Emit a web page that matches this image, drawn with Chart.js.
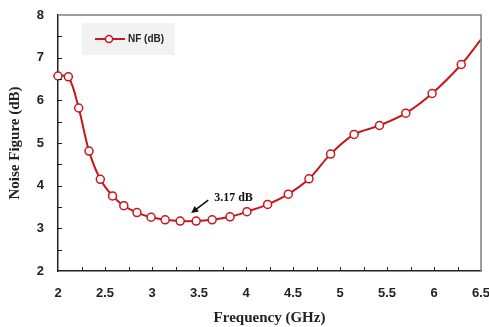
<!DOCTYPE html>
<html>
<head>
<meta charset="utf-8">
<script src="https://cdn.jsdelivr.net/npm/chart.js@4/dist/chart.umd.min.js"></script>
<style>
  html, body { margin: 0; padding: 0; background: #fff; }
  #wrap { width: 489px; height: 327px; }
</style>
</head>
<body>
<div id="wrap"><canvas id="chart"></canvas></div>
<script>
// measured noise figure vs frequency
const freqGHz = [2.0, 2.11, 2.22, 2.33, 2.45, 2.58, 2.70, 2.84, 2.99, 3.14, 3.30, 3.47, 3.64,
                 3.83, 4.01, 4.23, 4.45, 4.67, 4.90, 5.15, 5.42, 5.70, 5.98, 6.29, 6.5];
const nfDb = [6.57, 6.55, 5.82, 4.81, 4.15, 3.76, 3.53, 3.37, 3.26, 3.20, 3.17, 3.17, 3.20,
              3.27, 3.39, 3.56, 3.80, 4.16, 4.74, 5.20, 5.41, 5.70, 6.16, 6.84, 7.43];
const xTickLabels = ['2', '2.5', '3', '3.5', '4', '4.5', '5', '5.5', '6', '6.5'];
const yTickLabels = ['2', '3', '4', '5', '6', '7', '8'];

const minLabel = '3.17 dB';
const RED = '#c8161d';

// markers everywhere except the point where the curve leaves the frame
const radii = freqGHz.map((f, i) => i === freqGHz.length - 1 ? 0 : 4);

const tickFont = { family: '"Liberation Sans", Arial, sans-serif', size: 13, weight: 'bold' };
const titleFont = { family: '"Liberation Serif", "Times New Roman", serif', size: 15, weight: 'bold' };

// inward tick marks, grey frame, legend box and the minimum callout
const decorations = {
  id: 'decorations',
  afterDatasetsDraw(chart) {
    const { ctx, chartArea: a, scales: { x, y } } = chart;
    ctx.save();

    // top and right frame
    ctx.strokeStyle = '#7f7f7f';
    ctx.lineWidth = 1.5;
    ctx.beginPath();
    ctx.moveTo(a.left, a.top);
    ctx.lineTo(a.right, a.top);
    ctx.lineTo(a.right, a.bottom);
    ctx.stroke();

    // ticks pointing into the plot
    ctx.strokeStyle = '#222';
    ctx.lineWidth = 1;
    ctx.beginPath();
    for (let v = 2.25; v < 6.5; v += 0.25) {
      const px = Math.round(x.getPixelForValue(v)) + 0.5;
      ctx.moveTo(px, a.bottom);
      ctx.lineTo(px, a.bottom - 4);
    }
    for (let v = 2.5; v < 8; v += 0.5) {
      const py = Math.round(y.getPixelForValue(v)) + 0.5;
      ctx.moveTo(a.left, py);
      ctx.lineTo(a.left + 4, py);
    }
    ctx.stroke();

    // legend
    ctx.fillStyle = '#f2f2f2';
    ctx.fillRect(82, 23, 93, 32);
    ctx.strokeStyle = RED;
    ctx.lineWidth = 2;
    ctx.beginPath();
    ctx.moveTo(95, 39);
    ctx.lineTo(125, 39);
    ctx.stroke();
    ctx.beginPath();
    ctx.arc(109, 39, 3.5, 0, Math.PI * 2);
    ctx.fillStyle = '#fff';
    ctx.fill();
    ctx.lineWidth = 1.5;
    ctx.stroke();
    ctx.fillStyle = '#222';
    ctx.font = 'bold 10px "Liberation Sans", Arial, sans-serif';
    ctx.textBaseline = 'middle';
    ctx.fillText(chart.data.datasets[0].label, 128, 39.5);

    // callout at the minimum
    const iMin = nfDb.indexOf(Math.min(...nfDb));
    const tipX = x.getPixelForValue(freqGHz[iMin]) + 11;
    const tipY = y.getPixelForValue(nfDb[iMin]) - 8;
    const tailX = tipX + 17, tailY = tipY - 13;
    const ang = Math.atan2(tipY - tailY, tipX - tailX);
    ctx.strokeStyle = '#111';
    ctx.fillStyle = '#111';
    ctx.lineWidth = 1.6;
    ctx.beginPath();
    ctx.moveTo(tailX, tailY);
    ctx.lineTo(tipX - 4 * Math.cos(ang), tipY - 4 * Math.sin(ang));
    ctx.stroke();
    ctx.beginPath();
    ctx.moveTo(tipX, tipY);
    ctx.lineTo(tipX - 7 * Math.cos(ang) + 3.5 * Math.sin(ang), tipY - 7 * Math.sin(ang) - 3.5 * Math.cos(ang));
    ctx.lineTo(tipX - 7 * Math.cos(ang) - 3.5 * Math.sin(ang), tipY - 7 * Math.sin(ang) + 3.5 * Math.cos(ang));
    ctx.closePath();
    ctx.fill();
    ctx.font = 'bold 12px "Liberation Serif", "Times New Roman", serif';
    ctx.textBaseline = 'middle';
    ctx.fillText(minLabel, tailX + 6, tailY - 2);

    ctx.restore();
  }
};

new Chart(document.getElementById('chart'), {
  type: 'line',
  data: {
    datasets: [{
      label: 'NF (dB)',
      data: freqGHz.map((f, i) => ({ x: f, y: nfDb[i] })),
      borderColor: RED,
      borderWidth: 2,
      pointRadius: radii,
      pointBackgroundColor: '#fff',
      pointBorderColor: RED,
      pointBorderWidth: 1.5,
      tension: 0.35,
      clip: false
    }]
  },
  options: {
    responsive: true,
    maintainAspectRatio: false,
    animation: false,
    layout: { padding: { top: 15, right: 8, left: 0, bottom: 0 } },
    plugins: {
      legend: { display: false },
      tooltip: { enabled: false }
    },
    scales: {
      x: {
        type: 'linear',
        min: 2,
        max: 6.5,
        // last label is allowed to run off the right edge
        afterFit: s => { s.height = 56; s.paddingRight = 0; s.paddingLeft = 0; },
        afterBuildTicks: s => { s.ticks = xTickLabels.map(t => ({ value: parseFloat(t) })); },
        ticks: {
          color: '#222',
          font: tickFont,
          padding: 7,
          maxRotation: 0,
          callback: v => xTickLabels.find(t => parseFloat(t) === v)
        },
        grid: { display: false },
        border: { display: true, color: '#222', width: 1.5 },
        title: {
          display: true,
          text: 'Frequency (GHz)',
          color: '#222',
          font: titleFont,
          padding: { top: 4, bottom: 0 }
        }
      },
      y: {
        min: 2,
        max: 8,
        afterFit: s => { s.width = 58; },
        afterBuildTicks: s => { s.ticks = yTickLabels.map(t => ({ value: parseFloat(t) })); },
        ticks: {
          color: '#222',
          font: tickFont,
          padding: 6,
          callback: v => yTickLabels.find(t => parseFloat(t) === v)
        },
        grid: { display: false },
        border: { display: true, color: '#222', width: 1.5 },
        title: {
          display: true,
          text: 'Noise Figure (dB)',
          color: '#222',
          font: titleFont,
          padding: { top: 6, bottom: 0 }
        }
      }
    }
  },
  plugins: [decorations]
});
</script>
</body>
</html>
